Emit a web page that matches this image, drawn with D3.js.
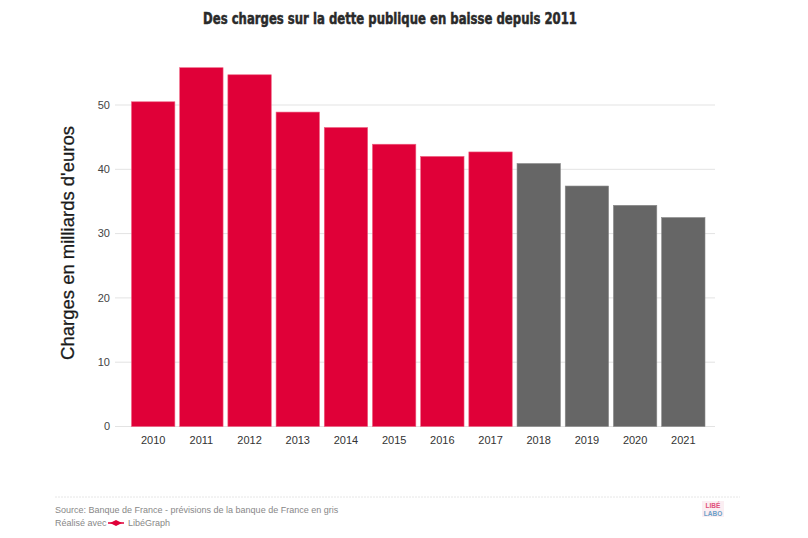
<!DOCTYPE html>
<html><head><meta charset="utf-8">
<script src="https://cdn.jsdelivr.net/npm/d3@7/dist/d3.min.js"></script>
<style>body{margin:0;background:#fff}svg{display:block}</style>
</head><body>
<script>
const years = ["2010","2011","2012","2013","2014","2015","2016","2017","2018","2019","2020","2021"];
const values = [50.5, 55.8, 54.7, 48.9, 46.5, 43.9, 42.0, 42.7, 40.9, 37.4, 34.4, 32.5];
const forecast = [false,false,false,false,false,false,false,false,true,true,true,true];
const yTicks = [0,10,20,30,40,50];
const title = "Des charges sur la dette publique en baisse depuis 2011";
const yTitle = "Charges en milliards d'euros";
const source = "Source: Banque de France - prévisions de la banque de France en gris";

const W = 808, H = 538;
const svg = d3.select("body").append("svg").attr("width", W).attr("height", H);

const x = d3.scaleBand().domain(years).range([131.5, 705]).paddingInner(0.1).paddingOuter(0);
const y = d3.scaleLinear().domain([0, 50]).range([426.5, 105]);

// gridlines
svg.append("g").selectAll("line").data(yTicks).join("line")
  .attr("x1", 115).attr("x2", 715)
  .attr("y1", d => y(d)).attr("y2", d => y(d))
  .attr("stroke", "#e3e3e3").attr("stroke-width", 1);

// y tick labels
svg.append("g").selectAll("text").data(yTicks).join("text")
  .attr("x", 110).attr("y", d => y(d)).attr("dy", "0.35em")
  .attr("text-anchor", "end").attr("font-family", "Liberation Sans, Arial, sans-serif")
  .attr("font-size", 11).attr("fill", "#444").text(d => d);

// bars
svg.append("g").selectAll("rect").data(years).join("rect")
  .attr("x", d => x(d)).attr("width", x.bandwidth())
  .attr("y", (d,i) => y(values[i])).attr("height", (d,i) => y(0) - y(values[i]))
  .attr("fill", (d,i) => forecast[i] ? "#666666" : "#e00038")
  .attr("stroke", (d,i) => forecast[i] ? "#8a8a8a" : "#ee6080").attr("stroke-width", 0.6);

// x labels
svg.append("g").selectAll("text").data(years).join("text")
  .attr("x", d => x(d) + x.bandwidth()/2).attr("y", 444)
  .attr("text-anchor", "middle").attr("font-family", "Liberation Sans, Arial, sans-serif")
  .attr("font-size", 11).attr("fill", "#333").text(d => d);

// y title
svg.append("text")
  .attr("transform", "translate(74,243) rotate(-90)")
  .attr("text-anchor", "middle").attr("font-family", "Liberation Sans, Arial, sans-serif")
  .attr("font-size", 18.5).attr("fill", "#1a1a1a")
  .attr("stroke", "#1a1a1a").attr("stroke-width", 0.3).text(yTitle);

// title
svg.append("text")
  .attr("x", 390).attr("y", 24).attr("text-anchor", "middle")
  .attr("font-family", "Liberation Sans Narrow, DejaVu Sans Condensed, sans-serif")
  .attr("font-weight", "bold").attr("font-size", 16.5).attr("fill", "#2a2a2a")
  .attr("stroke", "#2a2a2a").attr("stroke-width", 0.5)
  .attr("textLength", 374).attr("lengthAdjust", "spacingAndGlyphs")
  .text(title);

// footer
svg.append("line").attr("x1", 55).attr("x2", 740).attr("y1", 497).attr("y2", 497)
  .attr("stroke", "#e6e6e6").attr("stroke-dasharray", "2,1");
svg.append("text").attr("x", 55).attr("y", 513)
  .attr("font-family", "Liberation Sans, Arial, sans-serif").attr("font-size", 9)
  .attr("fill", "#888").text(source);
svg.append("text").attr("x", 55).attr("y", 526)
  .attr("font-family", "Liberation Sans, Arial, sans-serif").attr("font-size", 9)
  .attr("fill", "#888").text("Réalisé avec");
svg.append("path").attr("d", "M110,523 L116,520 L122,523 L116,526 Z").attr("fill", "#e00038");
svg.append("path").attr("d", "M108,523 L124,523").attr("stroke", "#e00038").attr("stroke-width", 1.5);
svg.append("text").attr("x", 128).attr("y", 526)
  .attr("font-family", "Liberation Sans, Arial, sans-serif").attr("font-size", 9)
  .attr("fill", "#888").text("LibéGraph");

// logo
const lg = svg.append("g");
lg.append("rect").attr("x", 702).attr("y", 501).attr("width", 22).attr("height", 16).attr("fill", "#fbeef2");
lg.append("text").attr("x", 713).attr("y", 508).attr("text-anchor", "middle")
  .attr("font-family", "Liberation Sans Narrow, sans-serif").attr("font-weight", "bold").attr("font-size", 6.5)
  .attr("fill", "#e0507a").text("LIBÉ");
lg.append("text").attr("x", 713).attr("y", 515.5).attr("text-anchor", "middle")
  .attr("font-family", "Liberation Sans Narrow, sans-serif").attr("font-weight", "bold").attr("font-size", 6.5)
  .attr("fill", "#6aa0c8").text("LABO");
</script>
</body></html>
